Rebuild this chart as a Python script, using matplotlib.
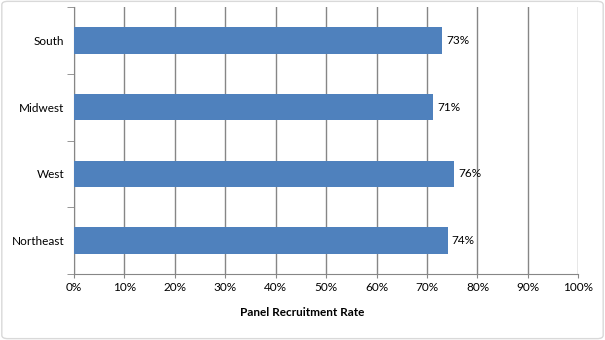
import matplotlib.pyplot as plt
from matplotlib.patches import FancyBboxPatch

regions = ["South", "Midwest", "West", "Northeast"]
rates = [73.0, 71.2, 75.4, 74.1]
labels = ["73%", "71%", "76%", "74%"]
xticks = [0, 10, 20, 30, 40, 50, 60, 70, 80, 90, 100]

plt.rcParams['font.family'] = ['Lato', 'DejaVu Sans']

fig = plt.figure(figsize=(6.05, 3.4), dpi=100)
ax = fig.add_axes([74/605, 1 - 274/340, 504.3/605, 267/340])

ypos = list(range(len(regions)))[::-1]
ax.barh(ypos, rates, height=0.4, color='#4F81BD', zorder=3)
for y, r, lab in zip(ypos, rates, labels):
    ax.text(r + 0.8, y, lab, va='center', ha='left', fontsize=8.5, color='black')

ax.set_xlim(0, 100)
ax.set_ylim(-0.5, 3.5)
ax.set_xticks(xticks)
ax.set_xticklabels([f"{t}%" for t in xticks], fontsize=8.5)
ax.set_yticks(ypos)
ax.set_yticklabels(regions, fontsize=8.5)
ax.set_yticks([-0.5, 0.5, 1.5, 2.5, 3.5], minor=True)
ax.tick_params(axis='y', which='major', length=0, pad=7)
ax.tick_params(axis='y', which='minor', length=5, color='#868686')
ax.tick_params(axis='x', length=3, color='#868686', pad=3)
ax.grid(axis='x', color='#868686', linewidth=1, zorder=0)
for s in ['top', 'right']:
    ax.spines[s].set_visible(False)
for s in ['left', 'bottom']:
    ax.spines[s].set_color('#868686')

fig.text(0.5, 1 - 312/340, "Panel Recruitment Rate", ha='center', va='center',
         fontsize=8.5, fontweight='bold')

border = FancyBboxPatch((0.003, 0.004), 0.994, 0.992, boxstyle="round,pad=0,rounding_size=0.01",
                        transform=fig.transFigure, fill=False, edgecolor='#D9D9D9', linewidth=1)
fig.patches.append(border)

fig.savefig("out.png", dpi=100)
